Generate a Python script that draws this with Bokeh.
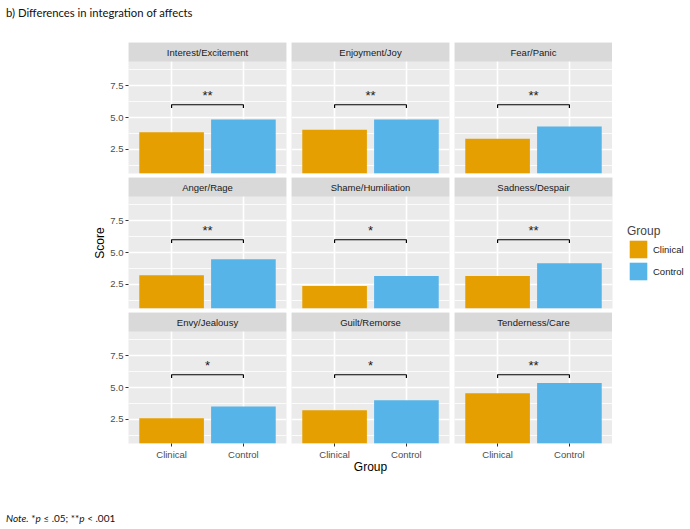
from bokeh.plotting import figure
from bokeh.models import (ColumnDataSource, FixedTicker, Range1d, Legend, LegendItem,
                          Div, PrintfTickFormatter)
from bokeh.layouts import column, row
from bokeh.embed import file_html
from bokeh.resources import INLINE
from bokeh.core.properties import value

# ---------------- data ----------------
facets = ["Interest/Excitement", "Enjoyment/Joy", "Fear/Panic",
          "Anger/Rage", "Shame/Humiliation", "Sadness/Despair",
          "Envy/Jealousy", "Guilt/Remorse", "Tenderness/Care"]
groups = ["Clinical", "Control"]
clinical = [3.85, 4.04, 3.34, 3.21, 2.37, 3.15, 2.58, 3.21, 4.55]
control = [4.84, 4.84, 4.30, 4.47, 3.15, 4.15, 3.50, 4.00, 5.36]
signif = ["**", "**", "**", "**", "*", "**", "*", "*", "**"]
y_ticks = [2.5, 5.0, 7.5]
y_minor = [1.25, 3.75, 6.25, 8.75]
bracket_y = 6.0
bracket_tip = 0.25
colors = ["#E69F00", "#56B4E9"]

# ---------------- layout constants ----------------
FONT = "Liberation Sans"
Y0, Y1 = 0.6, 9.4
PANEL_H, STRIP_H, FRAME_W = 112, 19, 158
YTOP = Y1 + (Y1 - Y0) * STRIP_H / PANEL_H
X0, X1 = 0.4, 2.6
xs = [k + 1 for k in range(len(groups))]


def make_panel(i):
    r, c = divmod(i, 3)
    left, bottom = c == 0, r == 2
    p = figure(frame_width=FRAME_W, frame_height=PANEL_H + STRIP_H,
               x_range=Range1d(X0, X1), y_range=Range1d(Y0, YTOP),
               output_backend="svg", toolbar_location=None,
               x_axis_location="below" if bottom else None,
               y_axis_location="left" if left else None,
               min_border_left=128 if left else 0,
               min_border_right=(5 if c < 2 else (78 if i == 5 else 0)),
               min_border_top=0, min_border_bottom=50 if bottom else 4,
               background_fill_color="#EBEBEB", border_fill_color="white",
               outline_line_color=None)
    p.xgrid.ticker = FixedTicker(ticks=xs)
    p.ygrid.ticker = FixedTicker(ticks=y_ticks, minor_ticks=y_minor)
    p.grid.grid_line_color = "white"
    p.grid.grid_line_width = 1.6
    p.ygrid.minor_grid_line_color = "white"
    p.ygrid.minor_grid_line_width = 0.8

    src = ColumnDataSource(dict(x=xs, top=[clinical[i], control[i]],
                                group=groups, color=colors))
    bars = p.vbar(x="x", top="top", bottom=0, width=0.9, fill_color="color",
                  line_color=None, source=src)

    # significance bracket
    p.line(x=[xs[0], xs[0], xs[1], xs[1]],
           y=[bracket_y - bracket_tip, bracket_y, bracket_y, bracket_y - bracket_tip],
           line_color="black", line_width=1.2)
    p.text(x=[(xs[0] + xs[1]) / 2], y=[bracket_y + 0.7], text=[signif[i]],
           text_align="center", text_baseline="alphabetic",
           text_font=value(FONT), text_font_size="13px", text_color="#1A1A1A")

    # strip
    p.quad(left=X0, right=X1, bottom=Y1, top=YTOP, fill_color="#D9D9D9",
           line_color=None)
    p.text(x=[(X0 + X1) / 2], y=[(Y1 + YTOP) / 2], text=[facets[i]],
           text_align="center", text_baseline="middle",
           text_font=value(FONT), text_font_size="9.5px", text_color="#1A1A1A")

    axes = []
    if left:
        ax = p.yaxis[0]
        ax.ticker = FixedTicker(ticks=y_ticks, minor_ticks=[])
        ax.formatter = PrintfTickFormatter(format="%.1f")
        ax.bounds = (Y0, Y1)
        axes.append(ax)
        if r == 1:
            ax.axis_label = "Score"
            ax.axis_label_standoff = 0
    if bottom:
        ax = p.xaxis[0]
        ax.ticker = FixedTicker(ticks=xs, minor_ticks=[])
        ax.major_label_overrides = {x: g for x, g in zip(xs, groups)}
        axes.append(ax)
        if c == 1:
            ax.axis_label = "Group"
            ax.axis_label_standoff = -3
    for ax in axes:
        ax.axis_line_color = None
        ax.major_tick_line_color = "#333333"
        ax.major_tick_out = 3
        ax.major_tick_in = 0
        ax.minor_tick_line_color = None
        ax.major_label_standoff = 2
        ax.major_label_text_font = FONT
        ax.major_label_text_font_size = "9.5px"
        ax.major_label_text_color = "#4D4D4D"
        ax.axis_label_text_font = FONT
        ax.axis_label_text_font_size = "12px"
        ax.axis_label_text_font_style = "normal"
        ax.axis_label_text_color = "black"

    if i == 5:
        items = [LegendItem(label=g, renderers=[bars], index=k)
                 for k, g in enumerate(groups)]
        legend = Legend(items=items, location=(15, 26), title="Group",
                        title_text_font=FONT, title_text_font_size="12px",
                        title_text_font_style="normal", title_standoff=0,
                        label_text_font=FONT, label_text_font_size="9.5px",
                        label_text_color="#1A1A1A",
                        glyph_width=22, glyph_height=22, label_height=22,
                        label_standoff=4, spacing=-4, padding=0, margin=0,
                        background_fill_alpha=0, border_line_color=None)
        p.add_layout(legend, "right")
    return p


panels = [make_panel(i) for i in range(len(facets))]

title = Div(text='<div style="font-family:Lato;font-size:11.3px;color:#111;'
                 'padding:5px 0 0 6px;">b) Differences in integration of affects</div>',
            width=690, height=42, margin=0)
note = Div(text='<div style="font-family:Lato;font-size:10px;color:#111;'
                'padding:18px 0 0 6px;"><i>Note.</i> *<i>p</i> \u2264 .05; '
                '**<i>p</i> &lt; .001</div>',
           width=690, height=36, margin=0)

layout = column(title,
                row(*panels[0:3]),
                row(*panels[3:6]),
                row(*panels[6:9]),
                note)

open("out.html", "w").write(file_html(layout, INLINE))
